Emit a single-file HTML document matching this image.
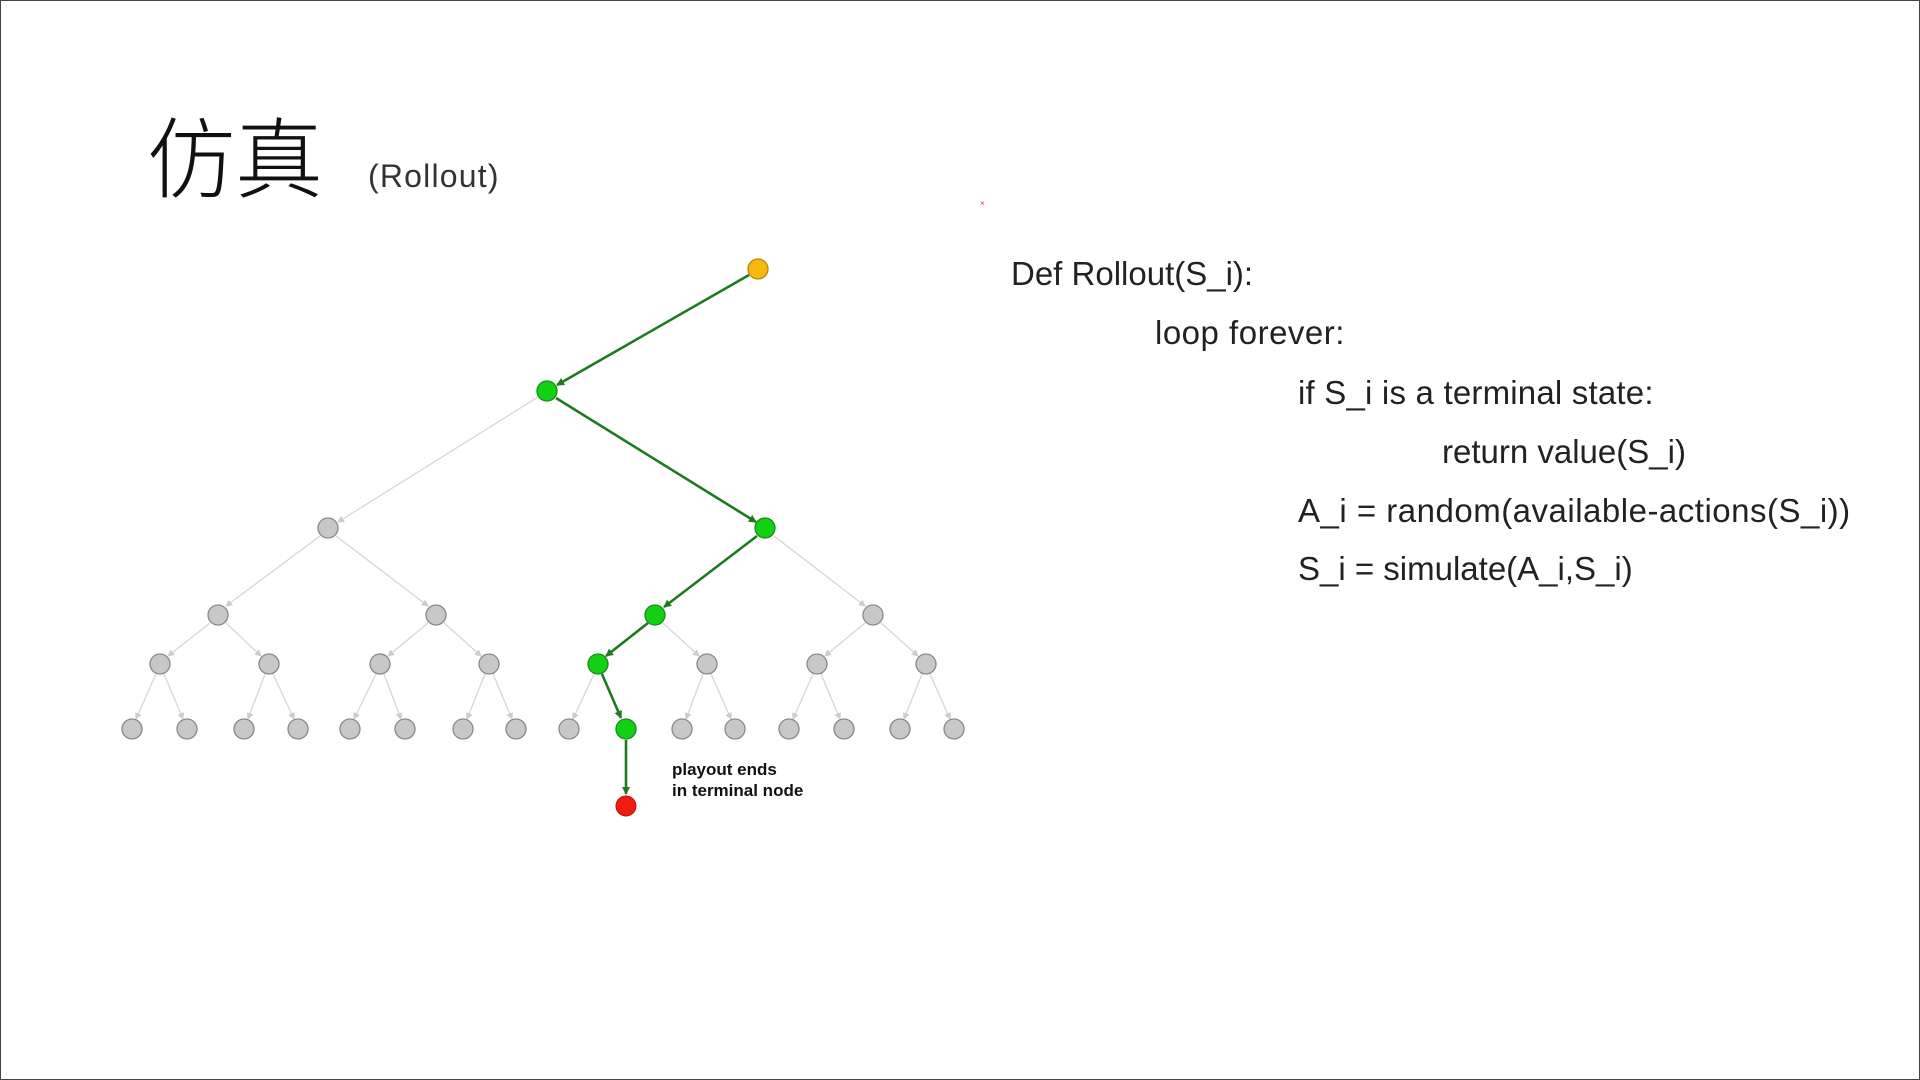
<!DOCTYPE html>
<html><head><meta charset="utf-8"><style>
html,body{margin:0;padding:0;background:#fff;}
body{width:1920px;height:1080px;position:relative;overflow:hidden;font-family:"Liberation Sans","Noto Sans CJK SC",sans-serif;}
.frame{position:absolute;left:0;top:0;width:1918px;height:1078px;border:1px solid #444;}
.t{position:absolute;white-space:nowrap;color:#222;}
.code{font-size:33px;line-height:40px;color:#222;}
</style></head><body>
<div class="frame"></div>
<div class="t" style="left:147px;top:104px;font-size:88px;line-height:100px;font-family:'Noto Sans CJK SC',sans-serif;font-weight:300;color:#111;">仿真</div>
<div class="t" style="left:368px;top:156px;font-size:32px;line-height:40px;color:#333;letter-spacing:1.2px;">(Rollout)</div>
<div class="t code" style="left:1011px;top:254px;">Def Rollout(S_i):</div>
<div class="t code" style="left:1155px;top:313px;letter-spacing:0.5px;">loop forever:</div>
<div class="t code" style="left:1298px;top:373px;letter-spacing:0.2px;">if S_i is a terminal state:</div>
<div class="t code" style="left:1442px;top:432px;">return value(S_i)</div>
<div class="t code" style="left:1298px;top:491px;letter-spacing:0.5px;">A_i = random(available-actions(S_i))</div>
<div class="t code" style="left:1298px;top:549px;">S_i = simulate(A_i,S_i)</div>
<div class="t" style="left:672px;top:759px;font-size:17px;line-height:21px;font-weight:bold;color:#111;">playout ends<br>in terminal node</div>
<svg width="1920" height="1080" style="position:absolute;left:0;top:0">
<defs>
<marker id="g" markerWidth="8" markerHeight="8" refX="7" refY="4" orient="auto" markerUnits="userSpaceOnUse"><path d="M0,0 L8,4 L0,8 z" fill="#1f7a1f"/></marker>
<marker id="l" markerWidth="7" markerHeight="7" refX="6" refY="3.5" orient="auto" markerUnits="userSpaceOnUse"><path d="M0,0 L7,3.5 L0,7 z" fill="#ccc"/></marker>
</defs>
<g stroke="#d6d6d6" stroke-width="1.3" fill="none" marker-end="url(#l)">
<line x1="538" y1="397" x2="338" y2="522"/>
<line x1="320" y1="536" x2="226" y2="606"/><line x1="336" y1="536" x2="428" y2="606"/>
<line x1="774" y1="536" x2="865" y2="606"/>
<line x1="210" y1="623" x2="168" y2="656"/><line x1="226" y1="623" x2="261" y2="656"/>
<line x1="428" y1="623" x2="388" y2="656"/><line x1="444" y1="623" x2="481" y2="656"/>
<line x1="663" y1="623" x2="699" y2="656"/>
<line x1="865" y1="623" x2="825" y2="656"/><line x1="881" y1="623" x2="918" y2="656"/>
<line x1="156" y1="674" x2="136" y2="719"/><line x1="164" y1="674" x2="183" y2="719"/>
<line x1="265" y1="674" x2="248" y2="719"/><line x1="273" y1="674" x2="294" y2="719"/>
<line x1="376" y1="674" x2="354" y2="719"/><line x1="384" y1="674" x2="401" y2="719"/>
<line x1="485" y1="674" x2="467" y2="719"/><line x1="493" y1="674" x2="512" y2="719"/>
<line x1="594" y1="674" x2="573" y2="719"/>
<line x1="703" y1="674" x2="686" y2="719"/><line x1="711" y1="674" x2="731" y2="719"/>
<line x1="813" y1="674" x2="793" y2="719"/><line x1="821" y1="674" x2="840" y2="719"/>
<line x1="922" y1="674" x2="904" y2="719"/><line x1="930" y1="674" x2="950" y2="719"/>
</g>
<g stroke="#1f7a1f" stroke-width="2.6" fill="none" marker-end="url(#g)">
<line x1="749" y1="275" x2="557" y2="385"/>
<line x1="556" y1="398" x2="756" y2="522"/>
<line x1="757" y1="536" x2="664" y2="607"/>
<line x1="648" y1="623" x2="606" y2="656"/>
<line x1="602" y1="674" x2="621" y2="718"/>
<line x1="626" y1="740" x2="626" y2="794"/>
</g>
<g stroke="#888" stroke-width="1.3" fill="#c8c8c8">
<circle cx="328" cy="528" r="10"/><circle cx="218" cy="615" r="10"/><circle cx="436" cy="615" r="10"/><circle cx="873" cy="615" r="10"/>
<circle cx="160" cy="664" r="10"/><circle cx="269" cy="664" r="10"/><circle cx="380" cy="664" r="10"/><circle cx="489" cy="664" r="10"/><circle cx="707" cy="664" r="10"/><circle cx="817" cy="664" r="10"/><circle cx="926" cy="664" r="10"/>
<circle cx="132" cy="729" r="10"/><circle cx="187" cy="729" r="10"/><circle cx="244" cy="729" r="10"/><circle cx="298" cy="729" r="10"/><circle cx="350" cy="729" r="10"/><circle cx="405" cy="729" r="10"/><circle cx="463" cy="729" r="10"/><circle cx="516" cy="729" r="10"/><circle cx="569" cy="729" r="10"/><circle cx="682" cy="729" r="10"/><circle cx="735" cy="729" r="10"/><circle cx="789" cy="729" r="10"/><circle cx="844" cy="729" r="10"/><circle cx="900" cy="729" r="10"/><circle cx="954" cy="729" r="10"/>
</g>
<g stroke="#1a8a1a" stroke-width="1.3" fill="#12d012">
<circle cx="547" cy="391" r="10"/><circle cx="765" cy="528" r="10"/><circle cx="655" cy="615" r="10"/><circle cx="598" cy="664" r="10"/><circle cx="626" cy="729" r="10"/>
</g>
<circle cx="758" cy="269" r="10" fill="#f7b90f" stroke="#b8860b" stroke-width="1.3"/>
<circle cx="626" cy="806" r="10" fill="#f01c10" stroke="#b01010" stroke-width="1"/>
<text x="980" y="206" font-size="8" fill="#e03030" font-family="Liberation Sans">×</text>
</svg>
</body></html>
